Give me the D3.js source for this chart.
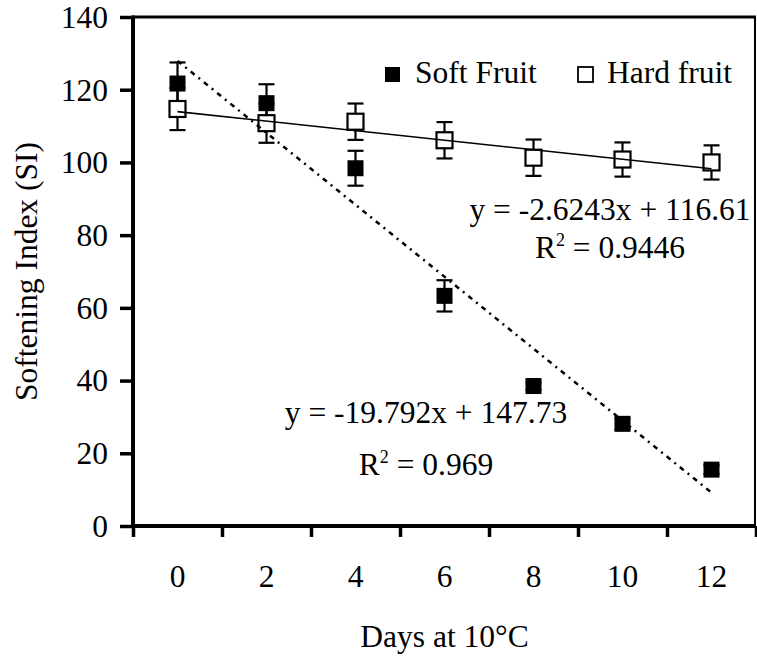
<!DOCTYPE html>
<html>
<head>
<meta charset="utf-8">
<script src="https://cdn.jsdelivr.net/npm/d3@7"></script>
<style>
  html, body { margin: 0; padding: 0; background: #fff; }
  svg { display: block; }
</style>
</head>
<body>
<svg id="chart" width="757" height="660"></svg>
<script>
// ---- data ----
const categories = ["0", "2", "4", "6", "8", "10", "12"];
const softValues = [121.7, 116.3, 98.4, 63.3, 38.5, 28.1, 15.5];
const softErrors = [5.8, 5.2, 4.8, 4.3, 1.0, 1.5, 1.2];
const hardValues = [114.7, 110.8, 111.2, 106.1, 101.3, 100.8, 100.0];
const hardErrors = [5.8, 5.4, 5.0, 5.0, 5.0, 4.7, 4.7];
const yTicks = [0, 20, 40, 60, 80, 100, 120, 140];
const seriesNames = ["Soft Fruit", "Hard fruit"];
const softFit = { slope: -19.792, intercept: 147.73, r2: "0.969" };
const hardFit = { slope: -2.6243, intercept: 116.61, r2: "0.9446" };
const xTitle = "Days at 10°C";
const yTitle = "Softening Index (SI)";

// ---- layout ----
const pL = 133, pR = 756, pT = 17, pB = 526;
const SERIF = "'Liberation Serif', 'Times New Roman', 'DejaVu Serif', serif";
const svg = d3.select("#chart");
svg.append("rect").attr("width", 757).attr("height", 660).attr("fill", "#fff");

const x = d3.scaleBand().domain(categories).range([pL, pR]).padding(0);
const xIdx = d3.scaleLinear().domain([0, categories.length]).range([pL, pR]);
const y = d3.scaleLinear().domain([0, 140]).range([pB, pT]);
const cx = c => x(c) + x.bandwidth() / 2;
const FS = 31.5;

// frame (top and right of plot area)
svg.append("line").attr("x1", pL).attr("x2", pR).attr("y1", y(140)).attr("y2", y(140))
  .attr("stroke", "#000").attr("stroke-width", 3);
svg.append("line").attr("x1", pR - 1).attr("x2", pR - 1).attr("y1", y(140)).attr("y2", pB)
  .attr("stroke", "#000").attr("stroke-width", 2);

// y axis
const yAxis = svg.append("g").attr("transform", `translate(${pL},0)`)
  .call(d3.axisLeft(y).tickValues(yTicks).tickSize(13).tickPadding(12).tickFormat(d3.format("d")));
yAxis.select(".domain").attr("stroke-width", 4).attr("d", `M0,${pT - 1.5}V${pB + 2}`);
yAxis.selectAll(".tick line").attr("stroke-width", 3.5);
yAxis.selectAll(".tick text").attr("font-size", FS).attr("dy", "0.33em");

// x axis tick marks at band boundaries
const xAxisT = svg.append("g").attr("transform", `translate(0,${pB})`)
  .call(d3.axisBottom(xIdx).tickValues(d3.range(categories.length + 1)).tickSize(11).tickFormat(""));
xAxisT.select(".domain").attr("stroke-width", 4).attr("d", `M${pL - 2},0H${pR}`);
xAxisT.selectAll(".tick line").attr("stroke-width", 3.5);

// x axis labels at band centres
const xAxisL = svg.append("g").attr("transform", `translate(0,${pB})`)
  .call(d3.axisBottom(x).tickSize(0).tickPadding(39));
xAxisL.select(".domain").remove();
xAxisL.selectAll(".tick text").attr("font-size", FS);

// axis titles
svg.append("text").attr("x", (pL + pR) / 2).attr("y", 647).attr("text-anchor", "middle")
  .attr("font-size", FS).text(xTitle);
svg.append("text").attr("transform", `translate(37,${(pT + pB) / 2}) rotate(-90)`)
  .attr("text-anchor", "middle").attr("font-size", FS).text(yTitle);

// error bars
function errorBars(vals, errs) {
  const g = svg.append("g").attr("stroke", "#000").attr("stroke-width", 2.2);
  categories.forEach((c, i) => {
    const xc = cx(c), hi = y(vals[i] + errs[i]), lo = y(vals[i] - errs[i]);
    g.append("line").attr("x1", xc).attr("x2", xc).attr("y1", hi).attr("y2", lo);
    g.append("line").attr("x1", xc - 8).attr("x2", xc + 8).attr("y1", hi).attr("y2", hi);
    g.append("line").attr("x1", xc - 8).attr("x2", xc + 8).attr("y1", lo).attr("y2", lo);
  });
}
const MS = 16;
function markers(vals, filled) {
  svg.append("g").selectAll("rect").data(vals).join("rect")
    .attr("x", (d, i) => cx(categories[i]) - MS / 2)
    .attr("y", d => y(d) - MS / 2)
    .attr("width", MS).attr("height", MS)
    .attr("fill", filled ? "#000" : "#fff")
    .attr("stroke", "#000").attr("stroke-width", filled ? 0 : 2.2);
}
errorBars(softValues, softErrors);
markers(softValues, true);
errorBars(hardValues, hardErrors);
markers(hardValues, false);

// trendlines (x index 1..n as in spreadsheet)
function trend(fit, dash, w) {
  const n = categories.length;
  const pts = [1, n].map(k => [cx(categories[k - 1]), y(fit.slope * k + fit.intercept)]);
  svg.append("path").attr("d", d3.line()(pts)).attr("fill", "none")
    .attr("stroke", "#000").attr("stroke-width", w)
    .attr("stroke-dasharray", dash);
}
trend(softFit, "5,5,2,5", 2.5);
trend(hardFit, null, 1.6);

// equations
function eq(fit, xc, y1, y2) {
  const sign = fit.intercept >= 0 ? "+" : "-";
  svg.append("text").attr("x", xc).attr("y", y1).attr("text-anchor", "middle").attr("font-size", FS)
    .text(`y = ${fit.slope}x ${sign} ${Math.abs(fit.intercept)}`);
  const t = svg.append("text").attr("x", xc).attr("y", y2).attr("text-anchor", "middle").attr("font-size", FS);
  t.append("tspan").text("R");
  t.append("tspan").attr("font-size", 18).attr("dy", -12).text("2");
  t.append("tspan").attr("dy", 12).text(` = ${fit.r2}`);
}
eq(hardFit, 610, 220, 258);
eq(softFit, 426, 423, 475);

// legend
const lg = svg.append("g");
[[385, true, 415], [578, false, 607]].forEach(([sx, filled, tx], i) => {
  lg.append("rect").attr("x", sx).attr("y", 67).attr("width", 15).attr("height", 15)
    .attr("fill", filled ? "#000" : "#fff").attr("stroke", "#000").attr("stroke-width", filled ? 0 : 1.8);
  lg.append("text").attr("x", tx).attr("y", 83).attr("font-size", FS).text(seriesNames[i]);
});

// force serif font and black fill on every text
svg.selectAll("text").style("font-family", SERIF).style("fill", "#000");
svg.selectAll("g").attr("font-family", null);
</script>
</body>
</html>
